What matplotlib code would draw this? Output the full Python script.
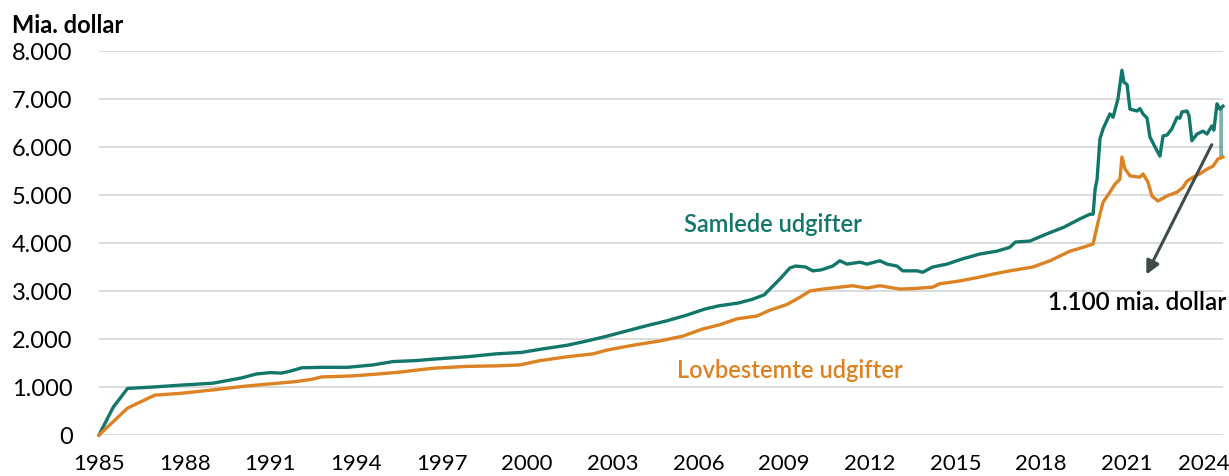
import matplotlib
matplotlib.use("Agg")
import matplotlib.pyplot as plt
import matplotlib.transforms as mtransforms

plt.rcParams['font.family'] = ['Lato', 'DejaVu Sans']

# Samlede udgifter (mia. dollar)
years_total = [1985.0, 1985.5, 1986.0, 1986.9, 1987.9, 1989.0, 1990.0, 1990.5, 1991.0, 1991.4,
               1991.7, 1992.1, 1992.8, 1993.7, 1994.6, 1995.3, 1996.1, 1996.7, 1997.9, 1998.9,
               1999.8, 2000.5, 2001.4, 2002.1, 2002.8, 2003.5, 2004.2, 2004.9, 2005.6, 2006.2,
               2006.7, 2007.4, 2007.9, 2008.3, 2008.5, 2008.85, 2009.2, 2009.4, 2009.75, 2010.0,
               2010.3, 2010.7, 2010.95, 2011.2, 2011.65, 2011.9, 2012.35, 2012.6, 2012.95, 2013.15,
               2013.65, 2013.85, 2014.2, 2014.7, 2015.25, 2015.85, 2016.45, 2016.9, 2017.1, 2017.6,
               2018.2, 2018.8, 2019.35, 2019.71, 2019.82, 2019.89, 2019.96, 2020.06, 2020.17, 2020.41,
               2020.52, 2020.69, 2020.83, 2020.90, 2021.01, 2021.11, 2021.36, 2021.46, 2021.57, 2021.71,
               2021.81, 2021.99, 2022.16, 2022.27, 2022.41, 2022.58, 2022.76, 2022.86, 2022.93, 2023.11,
               2023.18, 2023.28, 2023.46, 2023.67, 2023.81, 2023.98, 2024.05, 2024.16, 2024.26, 2024.37]
total = [0, 580, 970, 1000, 1040, 1080, 1190, 1270, 1300, 1290,
         1330, 1400, 1410, 1410, 1460, 1530, 1550, 1580, 1630, 1690,
         1720, 1790, 1870, 1960, 2060, 2170, 2280, 2380, 2500, 2620,
         2690, 2750, 2830, 2920, 3040, 3250, 3480, 3520, 3500, 3420,
         3440, 3520, 3630, 3560, 3600, 3560, 3630, 3560, 3520, 3420,
         3420, 3390, 3500, 3560, 3670, 3770, 3830, 3910, 4020, 4040,
         4190, 4330, 4500, 4600, 4600, 5120, 5330, 6170, 6380, 6690,
         6620, 7000, 7600, 7350, 7300, 6790, 6750, 6800, 6690, 6600,
         6210, 6000, 5810, 6230, 6250, 6380, 6620, 6600, 6730, 6750,
         6650, 6130, 6270, 6330, 6270, 6440, 6350, 6900, 6790, 6850]

# Lovbestemte udgifter (mia. dollar)
years_mand = [1985.0, 1986.0, 1986.95, 1987.9, 1989.0, 1990.0, 1990.9, 1991.85, 1992.45, 1992.8,
              1993.85, 1994.75, 1995.55, 1996.1, 1996.7, 1997.9, 1998.9, 1999.75, 2000.45, 2001.4,
              2002.3, 2002.8, 2003.7, 2004.65, 2005.45, 2006.15, 2006.7, 2007.35, 2008.05, 2008.5,
              2009.1, 2009.55, 2009.9, 2010.35, 2010.95, 2011.4, 2011.9, 2012.35, 2013.05, 2013.5,
              2014.2, 2014.45, 2015.15, 2015.85, 2016.3, 2016.9, 2017.71, 2018.31, 2019.01, 2019.47,
              2019.82, 2019.96, 2020.06, 2020.17, 2020.41, 2020.59, 2020.76, 2020.83, 2020.94, 2021.11,
              2021.46, 2021.57, 2021.74, 2021.88, 2022.09, 2022.41, 2022.76, 2022.97, 2023.11, 2023.32,
              2023.56, 2023.81, 2024.02, 2024.19, 2024.37]
mand = [0, 560, 830, 870, 940, 1010, 1060, 1110, 1160, 1210,
        1230, 1270, 1310, 1350, 1390, 1430, 1440, 1460, 1550, 1630,
        1690, 1770, 1870, 1960, 2060, 2210, 2290, 2420, 2480, 2600,
        2720, 2870, 3000, 3040, 3080, 3110, 3060, 3110, 3040, 3050,
        3080, 3150, 3210, 3290, 3350, 3420, 3500, 3630, 3830, 3910,
        3980, 4350, 4600, 4850, 5060, 5230, 5330, 5790, 5540, 5400,
        5370, 5440, 5270, 4980, 4875, 4980, 5060, 5160, 5290, 5370,
        5440, 5540, 5600, 5750, 5790]

xticks = list(range(1985, 2025, 3))
yticks = list(range(0, 8001, 1000))

teal = '#13766b'
orange = '#dc8223'

fig = plt.figure(figsize=(12.29, 4.77), dpi=100)
ax = fig.add_axes([99 / 1229, 1 - 436 / 477, (1223 - 99) / 1229, (436 - 52) / 477])

ax.plot(years_total, total, color=teal, lw=2.4, clip_on=False, zorder=3)
ax.plot(years_mand, mand, color=orange, lw=2.4, clip_on=False, zorder=3)
# forskellen ved seneste observation
ax.vlines(years_total[-1] - 0.05, mand[-1], total[-1], color=teal, alpha=0.55, lw=4, zorder=2)

ax.set_xlim(years_total[0], years_total[-1])
ax.set_ylim(0, 8000)
ax.set_xticks(xticks)
ax.set_yticks(yticks)
ax.set_yticklabels([f'{v:,}'.replace(',', '.') for v in yticks])
ax.grid(axis='y', color='#d9d9d9', lw=1.3)
ax.set_axisbelow(True)
for s in ax.spines.values():
    s.set_visible(False)
ax.tick_params(length=0, labelsize=17, colors='black')
ax.tick_params(axis='y', pad=19)
ax.tick_params(axis='x', pad=13, labelsize=16)

# sidste årstal rykkes lidt ind, så det ikke skæres af
last = ax.get_xticklabels()[-1]
last.set_transform(last.get_transform() + mtransforms.ScaledTranslation(-9 / 100, 0, fig.dpi_scale_trans))

fig.text(12 / 1229, 1 - 33 / 477, 'Mia. dollar', fontsize=17, fontweight='bold', va='baseline')

ax.text(2008.6, 4250, 'Samlede udgifter', color=teal, fontsize=17, fontweight='semibold',
        ha='center', va='baseline')
ax.text(2009.2, 1210, 'Lovbestemte udgifter', color=orange, fontsize=17, fontweight='semibold',
        ha='center', va='baseline')

ax.annotate('', xy=(2021.64, 3290), xytext=(2024.02, 6100),
            arrowprops=dict(arrowstyle='-|>,head_length=0.8,head_width=0.4', color='#3f4b4b', lw=2.2),
            annotation_clip=False)
ax.text(2021.35, 2790, '1.100 mia. dollar', fontsize=17.5, fontweight='semibold', ha='center',
        va='center', clip_on=False)

fig.savefig('out.png', dpi=100)
